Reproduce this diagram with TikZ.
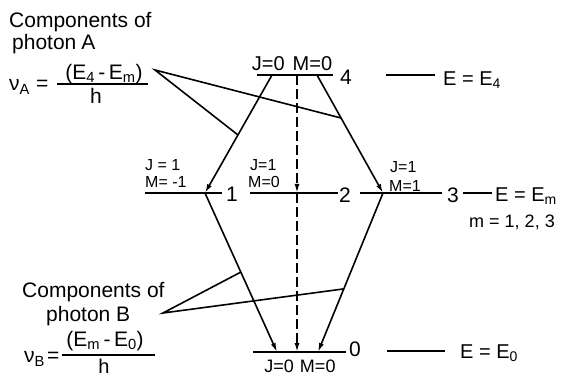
\documentclass[tikz,border=0pt]{standalone}
\usepackage{fontspec}
\setmainfont{Liberation Sans}
\usetikzlibrary{arrows.meta}
\begin{document}
\begin{tikzpicture}[x=1pt,y=-1pt,
  lvl/.style={line width=1.9pt},
  thin/.style={line width=1.6pt},
  arr/.style={line width=1.6pt,-{Latex[length=9pt,width=5pt]}},
  darr/.style={line width=1.6pt,dash pattern=on 10pt off 4pt,-{Latex[length=9pt,width=5pt]}},
  huge/.style={font=\fontsize{21}{23}\selectfont,inner sep=0pt},
  big/.style={font=\fontsize{20}{22}\selectfont,inner sep=0pt},
  mid/.style={font=\fontsize{18}{20}\selectfont,inner sep=0pt},
  small/.style={font=\fontsize{16}{17}\selectfont,inner sep=0pt}]
\useasboundingbox (0,0) rectangle (563,377);
% level coordinates
\coordinate (l4a) at (257,75); \coordinate (l4b) at (333,75);
\coordinate (a4L) at (272,75); \coordinate (a4M) at (297,75); \coordinate (a4R) at (317,75);
\coordinate (l1a) at (145,193); \coordinate (l1b) at (222,193);
\coordinate (l2a) at (250,193); \coordinate (l2b) at (338,193);
\coordinate (l3a) at (360,193); \coordinate (l3b) at (442,193);
\coordinate (p1) at (205,193); \coordinate (p2) at (297,193); \coordinate (p3) at (383,193);
\coordinate (l0a) at (253,352); \coordinate (l0b) at (346,352);
\coordinate (p0L) at (277,352); \coordinate (p0M) at (297,352); \coordinate (p0R) at (318,352);
% levels
\draw[lvl] (l4a) -- (l4b);
\draw[lvl] (l1a) -- (l1b);
\draw[lvl] (l2a) -- (l2b);
\draw[lvl] (l3a) -- (l3b);
\draw[lvl] (l0a) -- (l0b);
% transitions
\draw[arr] (a4L) -- (p1);
\draw[arr] (a4R) -- (p3);
\draw[darr] (a4M) -- (p2);
\draw[arr] (p1) -- (p0L);
\draw[arr] (p3) -- (p0R);
\draw[darr] (p2) -- (p0M);
% level labels
\node[big] (j4) at (292,64) {J=0\hspace{8pt}M=0};
\node[huge] (n4) at (346,77) {4};
\node[huge] (n1) at (232,194) {1};
\node[huge] (n2) at (345,195) {2};
\node[huge] (n3) at (453,195) {3};
\node[huge] (n0) at (355,349) {0};
\node[mid] (j0) at (300,366) {J=0\hspace{6pt}M=0};
\node[small,anchor=west] (j1) at (145,165) {J = 1};
\node[small,anchor=west] (m1) at (145,182) {M= -1};
\node[small,anchor=west] (j2) at (250,165) {J=1};
\node[small,anchor=west] (m2) at (248,182) {M=0};
\node[small,anchor=west] (j3) at (390,167) {J=1};
\node[small,anchor=west] (m3) at (389,186) {M=1};
% energies
\coordinate (e4a) at (386,75); \coordinate (e4b) at (435,75);
\draw[thin] (e4a) -- (e4b);
\node[big,anchor=west] (e4) at (443,80) {E = E\textsubscript{4}};
\coordinate (ema) at (463,193); \coordinate (emb) at (492,193);
\draw[thin] (ema) -- (emb);
\node[big,anchor=west] (em) at (495,196) {E = E\textsubscript{m}};
\node[mid] (mm) at (512,222) {m = 1, 2, 3};
\coordinate (e0a) at (387,351); \coordinate (e0b) at (445,351);
\draw[thin] (e0a) -- (e0b);
\node[big,anchor=west] (e0) at (460,353) {E = E\textsubscript{0}};
% photon A
\node[huge,anchor=west] (ca) at (9,22) {Components of};
\node[huge,anchor=west] (pa) at (12,44) {photon\hspace{5pt}A};
\node[huge,anchor=west] (nua) at (9,87) {ν\textsubscript{A}\hspace{6pt}=};
\node[huge] (numa) at (104,74) {(E\textsubscript{4}\,-\,E\textsubscript{m})};
\node[huge] (ha) at (96,96) {h};
\coordinate (fa1) at (57,84); \coordinate (fa2) at (148,84);
\draw[thin] (fa1) -- (fa2);
\coordinate (sa) at (155,70);
\coordinate (ta1) at (238,135); \coordinate (ta2) at (341,118);
\draw[thin] (ta1) -- (sa) -- (ta2);
% photon B
\node[huge,anchor=west] (cb) at (22,292) {Components of};
\node[huge,anchor=west] (pb) at (46,316) {photon B};
\node[huge,anchor=west] (nub) at (24,359) {ν\textsubscript{B}\hspace{2pt}=};
\node[huge] (numb) at (105,341) {(E\textsubscript{m}\,-\,E\textsubscript{0})};
\node[big] (hb) at (104,366) {h};
\coordinate (fb1) at (62,355); \coordinate (fb2) at (155,355);
\draw[thin] (fb1) -- (fb2);
\coordinate (sb) at (163,313);
\coordinate (tb1) at (241,272); \coordinate (tb2) at (343,289);
\draw[thin] (tb1) -- (sb) -- (tb2);
\end{tikzpicture}
\end{document}
